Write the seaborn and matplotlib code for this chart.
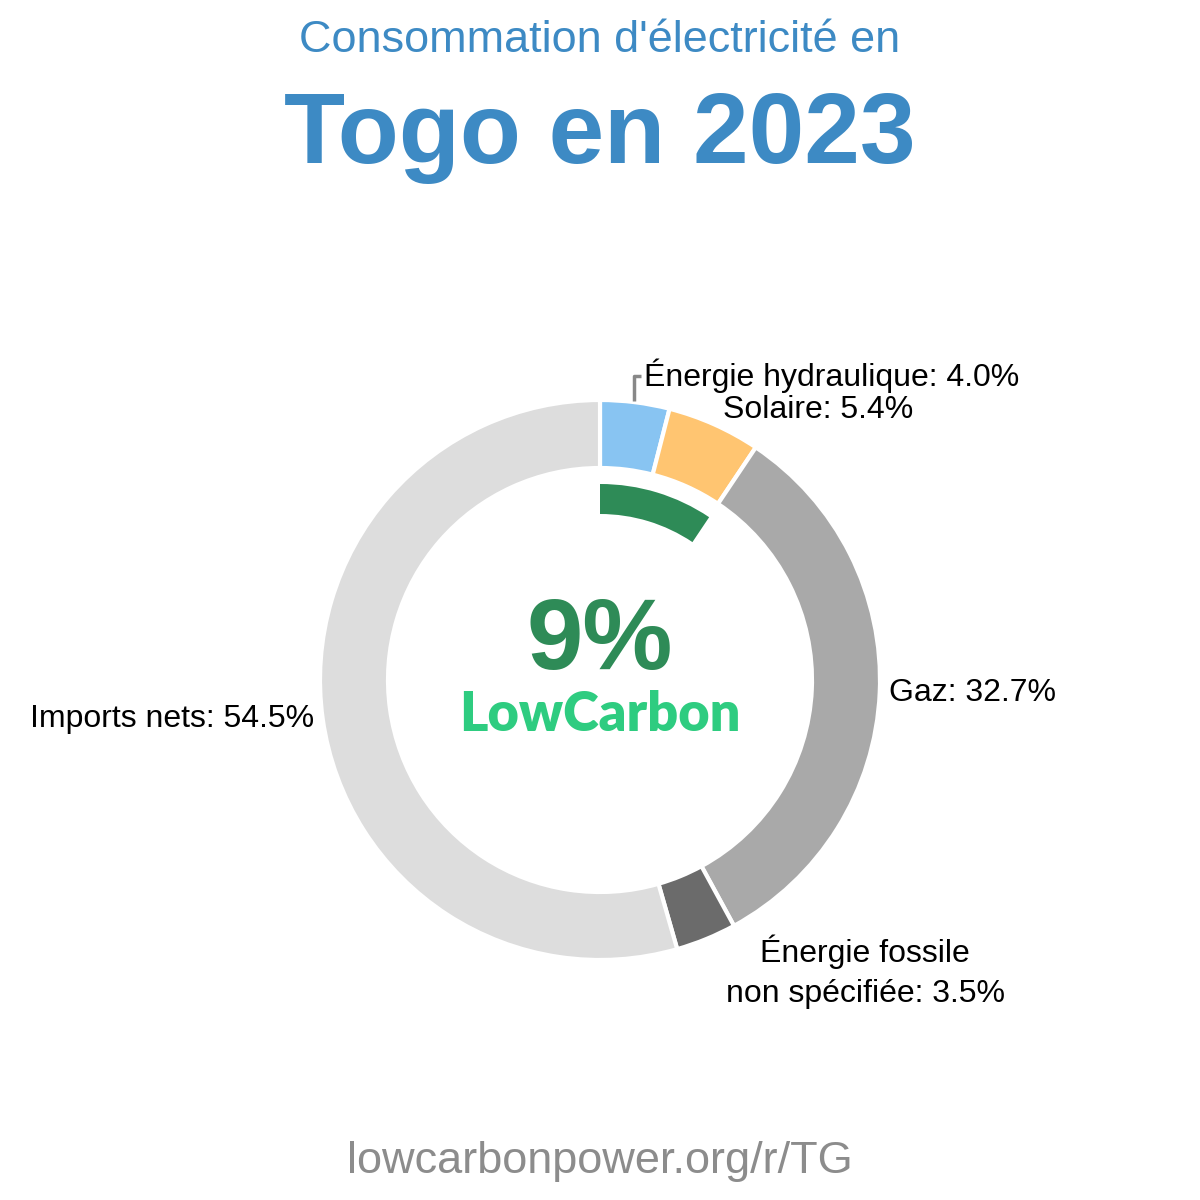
import matplotlib
matplotlib.use("Agg")
import matplotlib.pyplot as plt
from matplotlib.patches import Wedge
import seaborn as sns

sns.set_theme(style="white")
plt.rcParams['font.family'] = ['Liberation Sans', 'DejaVu Sans']

# Data
sources = ["Énergie hydraulique", "Solaire", "Gaz", "Énergie fossile\nnon spécifiée", "Imports nets"]
shares = [4.0, 5.4, 32.7, 3.5, 54.5]
colors = ["#88C4F2", "#FFC571", "#A9A9A9", "#6B6B6B", "#DDDDDD"]
low_carbon_share = 9.4
low_carbon_label = "9%"
title_top = "Consommation d'électricité en"
title_main = "Togo en 2023"
footer = "lowcarbonpower.org/r/TG"

W = H = 1200
fig = plt.figure(figsize=(12, 12), dpi=100)
ax = fig.add_axes([0, 0, 1, 1])
ax.set_xlim(0, W)
ax.set_ylim(0, H)
ax.set_aspect("equal")
ax.axis("off")

def Y(py):
    return H - py

cx, cy = 600, Y(680)
R_out, ring = 280, 68

ax.pie(shares, colors=colors, startangle=90, counterclock=False,
       radius=R_out, center=(cx, cy), normalize=True,
       wedgeprops=dict(width=ring, edgecolor="white", linewidth=3))
ax.set_xlim(0, W)
ax.set_ylim(0, H)

# low-carbon arc
ang = low_carbon_share / 100 * 360
ax.add_patch(Wedge((cx, cy), 196, 90 - ang, 90, width=30, facecolor="#2E8B57", edgecolor="none"))

lab_fs = 23
ax.text(644, Y(376), f"{sources[0]}: {shares[0]:.1f}%", fontsize=lab_fs, ha="left", va="center", color="black")
ax.plot([634, 634, 641], [Y(401), Y(376), Y(376)], color="#888888", lw=2.5, solid_capstyle="butt")
ax.text(818, Y(410), f"{sources[1]}: {shares[1]:.1f}%", fontsize=lab_fs, ha="center", va="center", color="black")
ax.text(889, Y(693), f"{sources[2]}: {shares[2]:.1f}%", fontsize=lab_fs, ha="left", va="center", color="black")
ax.text(865, Y(972), f"{sources[3]}: {shares[3]:.1f}%", fontsize=lab_fs, ha="center", va="center",
        color="black", linespacing=1.45, multialignment="center")
ax.text(314, Y(719), f"{sources[4]}: {shares[4]:.1f}%", fontsize=lab_fs, ha="right", va="center", color="black")

# center
ax.text(600, Y(643), low_carbon_label, fontsize=73, fontweight="bold", ha="center", va="center", color="#2E8B57")
ax.text(600, Y(715), "LowCarbon", fontsize=39, fontweight="heavy", ha="center", va="center",
        color="#2ECC80", family=["Lato", "DejaVu Sans"])

# titles
ax.text(600, Y(41), title_top, fontsize=32.4, ha="center", va="center", color="#3D8AC4")
ax.text(600, Y(137), title_main, fontsize=72, fontweight="bold", ha="center", va="center", color="#3D8AC4")
ax.text(600, Y(1161), footer, fontsize=32.5, ha="center", va="center", color="#8C8C8C")

fig.savefig("out.png", dpi=100, facecolor="white")
